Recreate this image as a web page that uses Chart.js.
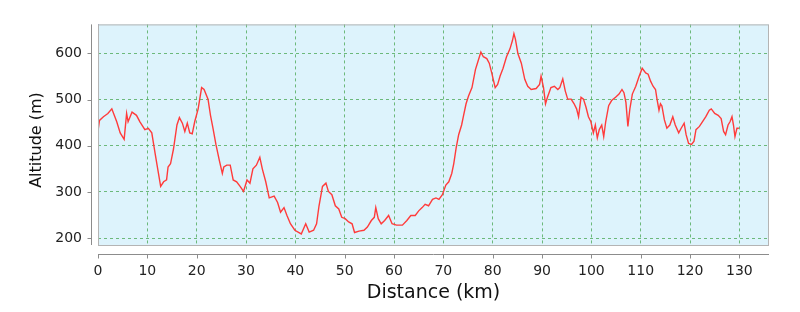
<!DOCTYPE html>
<html>
<head>
<meta charset="utf-8">
<script src="https://cdn.jsdelivr.net/npm/chart.js@4.4.1/dist/chart.umd.min.js"></script>
<style>
  body { margin: 0; background: #fff; }
  #wrap { width: 800px; height: 312px; }
</style>
</head>
<body>
<div id="wrap"><canvas id="profileCanvas"></canvas></div>
<script>
// distance along the route (km)
const distanceKm = [
    0, 0.3, 1.1, 2.0, 2.8, 3.8, 4.5, 5.3, 5.8, 6.1, 6.9, 7.8, 8.5, 9.5, 10.2, 10.9,
    11.6, 12.1, 12.7, 13.3, 13.9, 14.2, 14.7, 15.3, 16.0, 16.5, 17.1, 17.6, 18.1, 18.6, 19.1, 19.6,
    20.3, 21.0, 21.5, 22.3, 22.8, 23.3, 23.9, 24.6, 25.2, 25.5, 26.1, 26.8, 27.4, 28.1, 28.8, 29.5,
    30.2, 30.8, 31.4, 32.1, 32.8, 33.3, 34.0, 34.7, 35.7, 36.4, 37.0, 37.7, 38.3, 39.0, 39.9,
    41.2, 42.1, 42.8, 43.7, 44.3, 44.8, 45.5, 46.2, 46.7, 47.4, 48.1, 48.8, 49.4,
    50.1, 50.8, 51.5, 52.0, 52.9, 53.9, 54.6, 55.4, 56.0, 56.3, 56.8, 57.4, 58.1, 58.9, 59.6,
    60.5, 61.7, 62.6, 63.4, 64.3, 65.0, 65.7, 66.3, 67.0, 67.8, 68.5, 69.1, 69.8,
    70.5, 71.1, 71.7, 72.1, 72.6, 73.1, 73.7, 74.1, 74.6, 75.1, 75.8, 76.5, 77.1, 77.6, 78.1, 78.8, 79.3, 79.8,
    80.5, 81.0, 81.5, 82.1, 82.8, 83.5, 84.0, 84.3, 84.6, 85.1, 85.8, 86.5, 87.1, 87.8, 88.8, 89.5, 89.8,
    90.3, 90.7, 91.1, 91.8, 92.5, 93.2, 93.6, 94.2, 94.7, 95.2, 95.9, 96.5, 97.0, 97.4, 97.9, 98.4, 98.9, 99.4, 99.9,
    100.4, 100.8, 101.2, 101.6, 102.1, 102.5, 102.9, 103.5, 104.1, 104.9, 105.6, 106.2, 106.6, 107.0, 107.4, 107.8, 108.3, 109.0, 109.7,
    110.3, 111.0, 111.5, 112.0, 112.5, 113.0, 113.3, 113.7, 114.0, 114.3, 114.8, 115.3, 115.9, 116.5, 117.0, 117.7, 118.2, 118.8, 119.2, 119.7,
    120.3, 120.8, 121.2, 121.9, 122.5, 123.2, 123.9, 124.3, 125.0, 125.7, 126.3, 126.8, 127.2, 127.7, 128.1, 128.5, 128.8, 129.1, 129.5, 129.9
];

// altitude (m) at each point above
const altitudeM = [
    432, 455, 463, 470, 480, 452, 428, 414, 470, 452, 473, 466, 452, 435, 438, 428,
    382, 350, 312, 322, 326, 354, 361, 393, 445, 461, 449, 431, 449, 428, 426, 452,
    480, 526, 522, 501, 466, 438, 403, 368, 340, 354, 358, 358, 326, 322, 312, 301,
    326, 319, 350, 358, 375, 350, 322, 287, 291, 277, 256, 266, 249, 231, 217,
    209, 231, 213, 217, 231, 270, 312, 319, 301, 294, 270, 263, 245,
    242, 235, 231, 212, 215, 217, 224, 238, 245, 266, 242, 231, 238, 249, 231,
    228, 228, 238, 249, 249, 259, 266, 273, 270, 284, 287, 284, 294,
    315, 322, 340, 361, 396, 424, 445, 466, 491, 508, 526, 565, 586, 603, 593, 589, 579, 558,
    526, 533, 551, 568, 593, 610, 628, 643, 631, 600, 579, 544, 529, 522, 524, 533, 551,
    526, 491, 505, 526, 529, 522, 526, 545, 519, 501, 501, 491, 480, 463, 505, 501, 484, 463, 452,
    428, 445, 417, 435, 445, 420, 452, 487, 498, 505, 512, 522, 515, 494, 442, 480, 512, 529, 551,
    568, 558, 555, 540, 529, 522, 501, 477, 491, 486, 456, 438, 445, 463, 445, 428, 438, 449, 424, 405,
    403, 410, 435, 442, 452, 463, 477, 480, 470, 466, 459, 431, 424, 445, 452, 463, 445, 420, 438, 438
];

const xTicks = [0, 10, 20, 30, 40, 50, 60, 70, 80, 90, 100, 110, 120, 130];
const yTicks = [200, 300, 400, 500, 600];
const yTitle = 'Altitude (m)';

const points = distanceKm.map((d, i) => ({ x: d, y: altitudeM[i] }));

// plot background, border, offset axes and the altitude title
const plotFrame = {
    id: 'plotFrame',
    beforeDraw(chart) {
        const a = chart.chartArea;
        const ctx = chart.ctx;
        ctx.save();
        ctx.fillStyle = '#ddf3fc';
        ctx.fillRect(a.left, a.top, a.right - a.left, a.bottom - a.top);
        ctx.restore();
    },
    afterDraw(chart) {
        const a = chart.chartArea;
        const ctx = chart.ctx;
        const xs = chart.scales.x;
        const ys = chart.scales.y;
        ctx.save();
        ctx.strokeStyle = '#b4b4b4';
        ctx.lineWidth = 1;
        ctx.strokeRect(a.left + 0.5, a.top + 0.5, a.right - a.left - 1, a.bottom - a.top);

        ctx.strokeStyle = '#8c8c8c';
        // y axis, shifted left of the plot
        const ax = a.left - 6.5;
        ctx.beginPath();
        ctx.moveTo(ax, a.top);
        ctx.lineTo(ax, a.bottom);
        yTicks.forEach(v => {
            const py = Math.round(ys.getPixelForValue(v)) + 0.5;
            ctx.moveTo(ax - 4, py);
            ctx.lineTo(ax, py);
        });
        ctx.stroke();

        // x axis, shifted below the plot
        const ay = a.bottom + 9.5;
        ctx.beginPath();
        ctx.moveTo(a.left, ay);
        ctx.lineTo(a.right, ay);
        xTicks.forEach(v => {
            const px = Math.round(xs.getPixelForValue(v)) + 0.5;
            ctx.moveTo(px, ay);
            ctx.lineTo(px, ay + 4);
        });
        ctx.stroke();

        ctx.translate(37, 140);
        ctx.rotate(-Math.PI / 2);
        ctx.fillStyle = '#111';
        ctx.font = '16px "DejaVu Sans"';
        ctx.textAlign = 'center';
        ctx.textBaseline = 'middle';
        ctx.fillText(yTitle, 0, 0);
        ctx.restore();
    }
};

const gridGreen = 'rgba(80, 170, 90, 0.8)';

new Chart(document.getElementById('profileCanvas'), {
    type: 'line',
    data: {
        datasets: [{
            data: points,
            borderColor: '#ff3b3b',
            borderWidth: 1.4,
            pointRadius: 0,
            tension: 0,
            fill: false
        }]
    },
    options: {
        responsive: true,
        maintainAspectRatio: false,
        animation: false,
        events: [],
        layout: { padding: { left: 0, right: 31, top: 17, bottom: 0 } },
        plugins: {
            legend: { display: false },
            tooltip: { enabled: false }
        },
        scales: {
            x: {
                type: 'linear',
                min: 0,
                max: 136,
                afterBuildTicks: s => { s.ticks = xTicks.map(v => ({ value: v })); },
                afterFit: s => { s.height = 67; },
                border: { display: false, dash: [3, 3] },
                grid: {
                    drawTicks: false,
                    color: c => c.tick && c.tick.value === 0 ? '#6a7bb8' : gridGreen,
                    lineWidth: 1
                },
                ticks: {
                    padding: 18,
                    color: '#222',
                    font: { family: 'DejaVu Sans', size: 14 }
                },
                title: {
                    display: true,
                    text: 'Distance (km)',
                    color: '#111',
                    font: { family: 'DejaVu Sans', size: 19 },
                    padding: { top: 0, bottom: 8 }
                }
            },
            y: {
                type: 'linear',
                min: 185,
                max: 663,
                afterBuildTicks: s => { s.ticks = yTicks.map(v => ({ value: v })); },
                afterFit: s => { s.width = 98; },
                border: { display: false, dash: [3, 3] },
                grid: {
                    drawTicks: false,
                    color: gridGreen,
                    lineWidth: 1
                },
                ticks: {
                    padding: 16,
                    color: '#222',
                    font: { family: 'DejaVu Sans', size: 14 }
                }
            }
        }
    },
    plugins: [plotFrame]
});
</script>
</body>
</html>
